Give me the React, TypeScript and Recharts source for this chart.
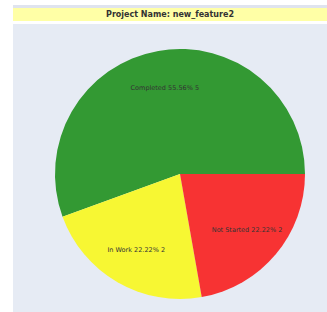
import { PieChart, Pie, Cell } from "recharts";

const statuses = ["Completed", "In Work", "Not Started"];
const counts = [5, 2, 2];
const percents = ["55.56%", "22.22%", "22.22%"];
const colors = ["#339933", "#f7f733", "#f73333"];

const data = statuses.map((name, i) => ({ name, value: counts[i], pct: percents[i] }));

const RADIAN = Math.PI / 180;

function renderLabel(props: any) {
  const { cx, cy, midAngle, outerRadius, index } = props;
  const r = outerRadius * 0.7;
  const x = cx + r * Math.cos(-midAngle * RADIAN);
  const y = cy + r * Math.sin(-midAngle * RADIAN);
  const d = data[index];
  return (
    <text x={x} y={y} textAnchor="middle" dominantBaseline="central" fontSize={6.5} fill="#333">
      {`${d.name} ${d.pct} ${d.value}`}
    </text>
  );
}

export default function App() {
  return (
    <div style={{ position: "absolute", left: 0, top: 0, width: 327, height: 312, background: "#fff", fontFamily: "Verdana, 'DejaVu Sans', sans-serif" }}>
      <div style={{ position: "absolute", left: 13, top: 5, width: 314, height: 3, background: "#dfe3ee" }} />
      <div
        style={{
          position: "absolute", left: 13, top: 8, width: 314, height: 13, background: "#ffffa6",
          fontSize: 8, fontWeight: "bold", color: "#333", textAlign: "center", lineHeight: "13px",
        }}
      >
        Project Name: new_feature2
      </div>
      <div style={{ position: "absolute", left: 13, top: 24, width: 314, height: 288, background: "#e6ebf4" }} />
      <div style={{ position: "absolute", left: 0, top: 0 }}>
        <PieChart width={327} height={312} margin={{ top: 0, right: 0, bottom: 0, left: 0 }}>
          <Pie
            data={data}
            dataKey="value"
            cx={180}
            cy={174}
            outerRadius={125}
            startAngle={0}
            endAngle={360}
            stroke="none"
            label={renderLabel}
            labelLine={false}
            isAnimationActive={false}
          >
            {data.map((d, i) => (
              <Cell key={d.name} fill={colors[i]} />
            ))}
          </Pie>
        </PieChart>
      </div>
    </div>
  );
}
